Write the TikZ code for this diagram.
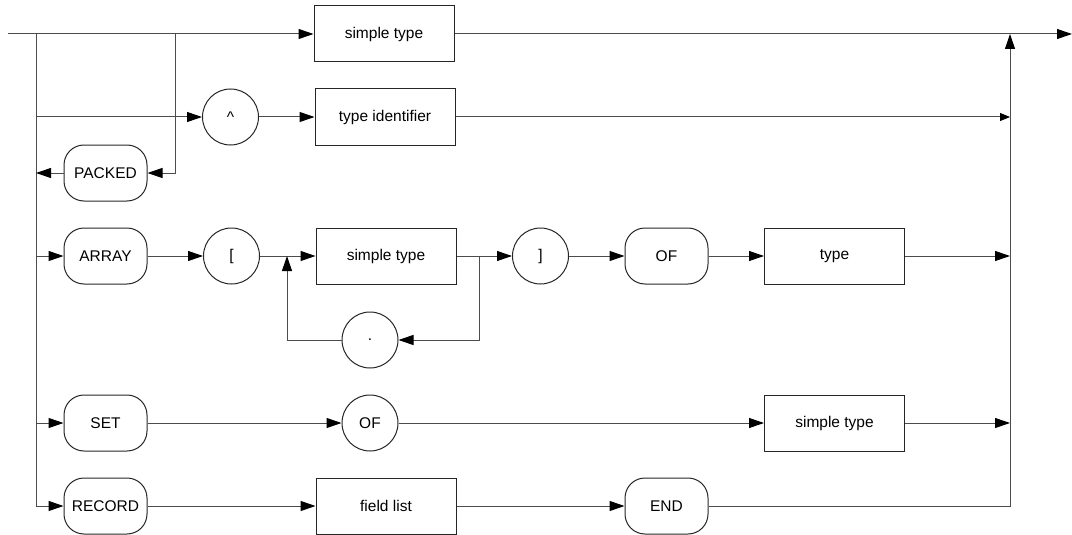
\documentclass[tikz,border=0pt]{standalone}
\usepackage{fontspec}
\setmainfont{Liberation Sans}
\usetikzlibrary{arrows.meta, positioning, calc}

\begin{document}
\begin{tikzpicture}[
        x=1pt, y=-1pt,
        box/.style = {rectangle, draw=black!85, line width=1pt, minimum width=140pt, minimum height=56pt, inner sep=0pt},
        pill/.style = {rectangle, draw=black!85, line width=1pt, rounded corners=20pt, minimum width=83pt, minimum height=56pt, inner sep=0pt},
        circ/.style = {circle, draw=black!85, line width=1pt, minimum size=56pt, inner sep=0pt},
        wire/.style = {line width=1pt, black!70},
        line/.style = {wire, -{Triangle[length=15pt, width=10pt, black]}},
        small tip/.style = {-{Triangle[length=10pt, width=8pt, black]}},
        node distance=55.5pt, % 结点之间的水平间距
        font = \fontsize{15.5}{18}\selectfont,
    ]
        \useasboundingbox (0,0) rectangle (1072,535);
        % 第一行: simple type
        \node[box] (S1) at (384,34) {simple type};
        % 第二行: 指针类型
        \node[circ] (CA) at (230.5,117) {\textasciicircum};
        \node[box, right=of CA] (TI) {type identifier};
        \node[pill] (PK) at (105.5,173) {PACKED};
        % ARRAY 行
        \node[pill] (AR) at (105.5,256) {ARRAY};
        \node[circ, right=of AR] (LB) {[};
        \node[box, right=of LB] (S2) {simple type};
        \node[circ, right=of S2] (RB) {]};
        \node[pill, right=of RB] (OA) {OF};
        \node[box, right=of OA] (TY) {type};
        \node[circ] (DT) at (370,340) {.};
        % SET 行
        \node[pill] (SE) at (105.5,423) {SET};
        \node[circ] (OB) at (370,423) {OF};
        \node[box] (S3) at (TY |- SE) {simple type};
        % RECORD 行
        \node[pill] (RC) at (105.5,506) {RECORD};
        \node[box] (FL) at (S2 |- RC) {field list};
        \node[pill] (EN) at (OA |- RC) {END};

        %定义辅助点
        \coordinate (T0) at (8,34);
        \coordinate (T1) at (36,34);
        \coordinate (T2) at (175,34);
        \coordinate (T3) at (1010,34);
        \coordinate (T4) at (1072,34);
        \coordinate (J1) at (287,256);
        \coordinate (J2) at (479,256);

        \draw [line] (T0) -- (S1);
        \draw [line] (S1) -- (T4);
        \draw [wire] (T1) -- (T1 |- RC);
        \draw [line] (T1 |- CA) -- (CA);
        \draw [line] (T2) |- (PK);
        \draw [line] (PK) -- (T1 |- PK);
        \draw [line] (CA) -- (TI);
        \draw [line, small tip] (TI) -- (T3 |- TI);
        \draw [line] (T1 |- AR) -- (AR);
        \draw [line] (AR) -- (LB);
        \draw [line] (LB) -- (S2);
        \draw [line] (S2) -- (RB);
        \draw [line] (RB) -- (OA);
        \draw [line] (OA) -- (TY);
        \draw [line] (TY) -- (T3 |- TY);
        \draw [line] (J2) |- (DT);
        \draw [line] (DT) -| (J1);
        \draw [line] (T1 |- SE) -- (SE);
        \draw [line] (SE) -- (OB);
        \draw [line] (OB) -- (S3);
        \draw [line] (S3) -- (T3 |- S3);
        \draw [line] (T1 |- RC) -- (RC);
        \draw [line] (RC) -- (FL);
        \draw [line] (FL) -- (EN);
        \draw [line] (EN) -| (T3);
    \end{tikzpicture}
\end{document}
